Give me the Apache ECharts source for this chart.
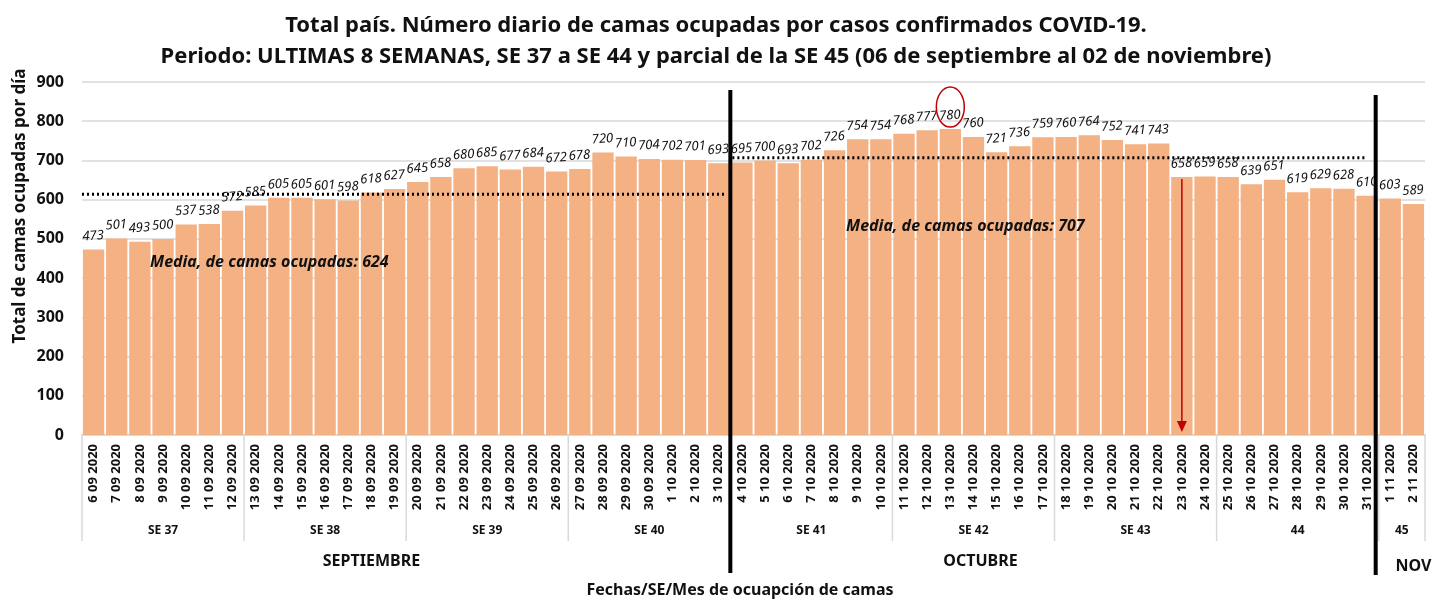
<!DOCTYPE html>
<html>
<head>
<meta charset="utf-8">
<script src="https://cdn.jsdelivr.net/npm/echarts@6/dist/echarts.min.js"></script>
<style>
  html, body { margin: 0; padding: 0; background: #fff; }
  #chart { width: 1432px; height: 600px; }
</style>
</head>
<body>
<div id="chart"></div>
<script>
// datos
const fechas = [
  '6 09 2020', '7 09 2020', '8 09 2020', '9 09 2020', '10 09 2020', '11 09 2020', '12 09 2020',
  '13 09 2020', '14 09 2020', '15 09 2020', '16 09 2020', '17 09 2020', '18 09 2020', '19 09 2020',
  '20 09 2020', '21 09 2020', '22 09 2020', '23 09 2020', '24 09 2020', '25 09 2020', '26 09 2020',
  '27 09 2020', '28 09 2020', '29 09 2020', '30 09 2020', '1 10 2020', '2 10 2020', '3 10 2020',
  '4 10 2020', '5 10 2020', '6 10 2020', '7 10 2020', '8 10 2020', '9 10 2020', '10 10 2020',
  '11 10 2020', '12 10 2020', '13 10 2020', '14 10 2020', '15 10 2020', '16 10 2020', '17 10 2020',
  '18 10 2020', '19 10 2020', '20 10 2020', '21 10 2020', '22 10 2020', '23 10 2020', '24 10 2020',
  '25 10 2020', '26 10 2020', '27 10 2020', '28 10 2020', '29 10 2020', '30 10 2020', '31 10 2020',
  '1 11 2020', '2 11 2020'
]
const camas = [
  473, 501, 493, 500, 537, 538, 572,
  585, 605, 605, 601, 598, 618, 627,
  645, 658, 680, 685, 677, 684, 672,
  678, 720, 710, 704, 702, 701, 693,
  695, 700, 693, 702, 726, 754, 754,
  768, 777, 780, 760, 721, 736, 759,
  760, 764, 752, 741, 743, 658, 659,
  658, 639, 651, 619, 629, 628, 610,
  603, 589
]
const semanas = ['SE 37', 'SE 38', 'SE 39', 'SE 40', 'SE 41', 'SE 42', 'SE 43', '44', '45']
const inicioSemana = [0, 7, 14, 21, 28, 35, 42, 49, 56]
const meses = ['SEPTIEMBRE', 'OCTUBRE', 'NOV']
const yTicks = [0, 100, 200, 300, 400, 500, 600, 700, 800, 900]

// medias: texto del rotulo y altura a la que esta dibujada la linea punteada
const mediaSepTexto = 624
const mediaSepLinea = 614
const mediaOctTexto = 707
const mediaOctLinea = 707

const FONT = '"Noto Sans", sans-serif'
const TXT = '#111'

const chart = echarts.init(document.getElementById('chart'))

chart.setOption({
  animation: false,
  title: {
    text: 'Total país. Número diario de camas ocupadas por casos confirmados COVID-19.\nPeriodo: ULTIMAS 8 SEMANAS, SE 37 a SE 44 y parcial de la SE 45 (06 de septiembre al 02 de noviembre)',
    left: 'center',
    top: 5,
    textStyle: { fontFamily: FONT, fontSize: 22, fontWeight: 'bold', color: TXT, lineHeight: 31 }
  },
  grid: { left: 82, right: 7, top: 82, bottom: 165 },
  xAxis: {
    type: 'category',
    data: fechas,
    axisLine: { lineStyle: { color: '#d9d9d9', width: 2 } },
    axisTick: { show: false },
    axisLabel: {
      interval: 0, rotate: 90, margin: 9,
      fontFamily: FONT, fontSize: 13, fontWeight: 'bold', color: TXT
    }
  },
  yAxis: {
    type: 'value',
    min: yTicks[0],
    max: yTicks[yTicks.length - 1],
    interval: 100,
    axisLine: { show: false },
    axisTick: { show: false },
    splitLine: { lineStyle: { color: '#d9d9d9', width: 1.5 } },
    axisLabel: { margin: 18, fontFamily: FONT, fontSize: 16, fontWeight: 'bold', color: TXT }
  },
  series: [{
    type: 'bar',
    data: camas,
    barCategoryGap: '8%',
    itemStyle: { color: '#F4B183' },
    label: {
      show: true, position: 'top', distance: 7, rotate: 4,
      fontFamily: FONT, fontSize: 13, fontStyle: 'italic', color: TXT
    }
  }]
})

// anotaciones, ubicadas con las escalas del grafico
const x0 = chart.convertToPixel({ xAxisIndex: 0 }, 0)
const bw = chart.convertToPixel({ xAxisIndex: 0 }, 1) - x0
const px = i => x0 + i * bw            // centro de la categoria i
const edge = i => x0 + (i - 0.5) * bw  // borde izquierdo de la categoria i
const py = v => chart.convertToPixel({ yAxisIndex: 0 }, v)
const y0 = py(0)

function texto(t, x, y, size, extra) {
  return {
    type: 'text', x: x, y: y, z: 100, silent: true,
    style: Object.assign({
      text: t, fill: TXT, align: 'center', verticalAlign: 'middle',
      textAlign: 'center', textVerticalAlign: 'middle',
      font: 'bold ' + size + 'px ' + FONT
    }, extra || {})
  }
}
function linea(xa, ya, xb, yb, color, w, dash) {
  return {
    type: 'line', z: 100, silent: true,
    shape: { x1: xa, y1: ya, x2: xb, y2: yb },
    style: { stroke: color, lineWidth: w, lineDash: dash || null }
  }
}

const g = []

// separadores y rotulos de semanas
const limites = inicioSemana.concat([fechas.length])
limites.forEach(s => g.push(linea(edge(s), y0, edge(s), y0 + 106, '#d9d9d9', 1.5)))
semanas.forEach((s, k) => {
  const c = (limites[k] + limites[k + 1] - 1) / 2
  g.push(texto(s, px(c), y0 + 96, 12))
})

// meses
const anclaMes = [12, 38.3, 57]
meses.forEach((m, k) => g.push(texto(m, px(anclaMes[k]), y0 + (k === 2 ? 131 : 126), 16)))

// lineas de media
g.push(linea(edge(0), py(mediaSepLinea), edge(28) - 6, py(mediaSepLinea), '#000', 3, [2, 3]))
g.push(linea(edge(28) + 2, py(mediaOctLinea), edge(56) - 12, py(mediaOctLinea), '#000', 3, [2, 3]))
g.push(texto('Media, de camas ocupadas: ' + mediaSepTexto, px(2.44), py(439), 16,
  { align: 'left', textAlign: 'left', font: 'italic bold 16px ' + FONT }))
g.push(texto('Media, de camas ocupadas: ' + mediaOctTexto, px(32.5), py(531), 16,
  { align: 'left', textAlign: 'left', font: 'italic bold 16px ' + FONT }))

// separadores de mes (lineas negras)
g.push(linea(edge(28), 90, edge(28), 573, '#000', 4))
g.push(linea(edge(56) - 3, 95, edge(56) - 3, 575, '#000', 4))

// maximo marcado con circulo
const iMax = camas.indexOf(Math.max(...camas))
g.push({
  type: 'ellipse', z: 100, silent: true,
  shape: { cx: px(iMax), cy: py(camas[iMax]) - 22, rx: 14, ry: 20 },
  style: { fill: null, stroke: '#c00000', lineWidth: 1.5 }
})

// flecha roja sobre el 23 10
const iFlecha = 47
g.push(linea(px(iFlecha), py(camas[iFlecha]) + 2, px(iFlecha), y0 - 12, '#c00000', 1.5))
g.push({
  type: 'polygon', z: 100, silent: true,
  shape: { points: [[px(iFlecha) - 5, y0 - 14], [px(iFlecha) + 5, y0 - 14], [px(iFlecha), y0 - 3]] },
  style: { fill: '#c00000' }
})

// nombres de ejes
const nombreY = texto('Total de camas ocupadas por día', 0, 0, 17)
nombreY.x = 20
nombreY.y = 206
nombreY.rotation = Math.PI / 2
g.push(nombreY)
g.push(texto('Fechas/SE/Mes de ocuapción de camas', 740, 590, 16))

chart.setOption({ graphic: { elements: g } })
</script>
</body>
</html>
